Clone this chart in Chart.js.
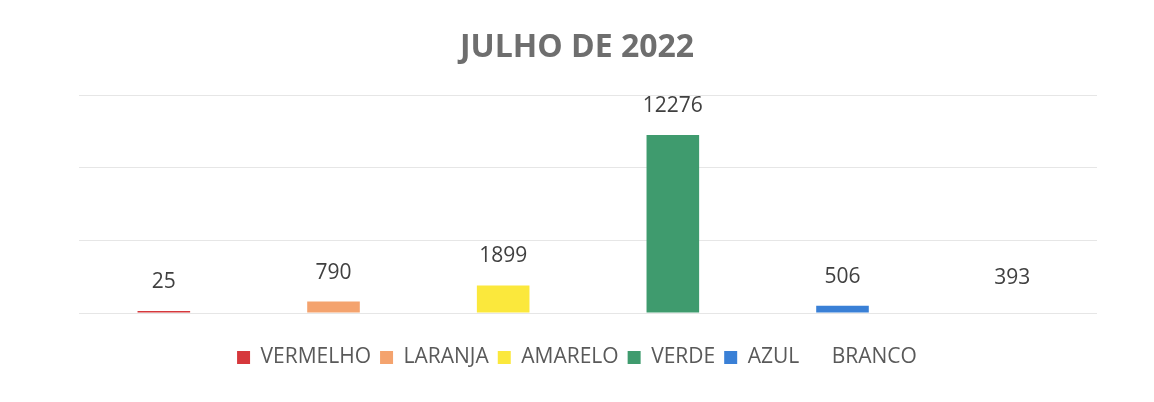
<!DOCTYPE html>
<html>
<head>
<meta charset="utf-8">
<script src="https://cdn.jsdelivr.net/npm/chart.js@4"></script>
<style>
  html, body { margin: 0; padding: 0; background: #ffffff; }
  #wrap { width: 1154px; height: 402px; position: relative; }
</style>
</head>
<body>
<div id="wrap"><canvas id="c" width="1154" height="402"></canvas></div>
<script>
const chartTitle = 'JULHO DE 2022';
const categories = ['VERMELHO', 'LARANJA', 'AMARELO', 'VERDE', 'AZUL', 'BRANCO'];
const values = [25, 790, 1899, 12276, 506, 393];
const barColors = ['#d6383c', '#f4a36e', '#fbe83c', '#3f9b6e', '#3a80d6', '#ffffff'];
const yTicks = [0, 5000, 10000, 15000];

const FONT = "'Open Sans', 'Liberation Sans', sans-serif";

const valueLabels = {
  id: 'valueLabels',
  afterDatasetsDraw(chart) {
    const ctx = chart.ctx;
    const meta = chart.getDatasetMeta(0);
    ctx.save();
    ctx.font = '21px ' + FONT;
    ctx.fillStyle = '#404040';
    ctx.textAlign = 'center';
    ctx.textBaseline = 'middle';
    meta.data.forEach((bar, i) => {
      ctx.fillText(String(values[i]), bar.x, bar.y - 29);
    });
    ctx.restore();
  }
};

new Chart(document.getElementById('c'), {
  type: 'bar',
  data: {
    labels: categories,
    datasets: [{
      label: chartTitle,
      data: values,
      backgroundColor: barColors,
      borderWidth: 0,
      minBarLength: 2,
      categoryPercentage: 1.0,
      barPercentage: 0.31
    }]
  },
  options: {
    responsive: false,
    animation: false,
    events: [],
    layout: { padding: { left: 57, right: 57, top: 0, bottom: 24 } },
    plugins: {
      title: {
        display: true,
        text: chartTitle,
        color: '#6e6e6e',
        font: { family: FONT, size: 32, weight: 'bold' },
        padding: { top: 29, bottom: 28 }
      },
      legend: {
        display: true,
        position: 'bottom',
        labels: {
          color: '#595959',
          font: { family: FONT, size: 21 },
          boxWidth: 13,
          boxHeight: 13,
          padding: 9,
          generateLabels(chart) {
            return categories.map((c, i) => ({
              text: c,
              fillStyle: barColors[i],
              strokeStyle: barColors[i],
              lineWidth: 0,
              hidden: false,
              index: i,
              fontColor: '#595959'
            }));
          }
        }
      },
      tooltip: { enabled: false }
    },
    scales: {
      x: {
        display: true,
        grid: { display: false, drawTicks: false },
        border: { display: false },
        ticks: { display: false },
        afterFit(scale) { scale.height = 25; }
      },
      y: {
        display: true,
        min: yTicks[0],
        max: yTicks[yTicks.length - 1],
        afterBuildTicks(scale) { scale.ticks = yTicks.map(v => ({ value: v })); },
        grid: { color: '#e6e6e6', lineWidth: 1, drawTicks: false },
        border: { display: false },
        ticks: { display: false },
        afterFit(scale) { scale.width = 22; }
      }
    }
  },
  plugins: [valueLabels]
});
</script>
</body>
</html>
